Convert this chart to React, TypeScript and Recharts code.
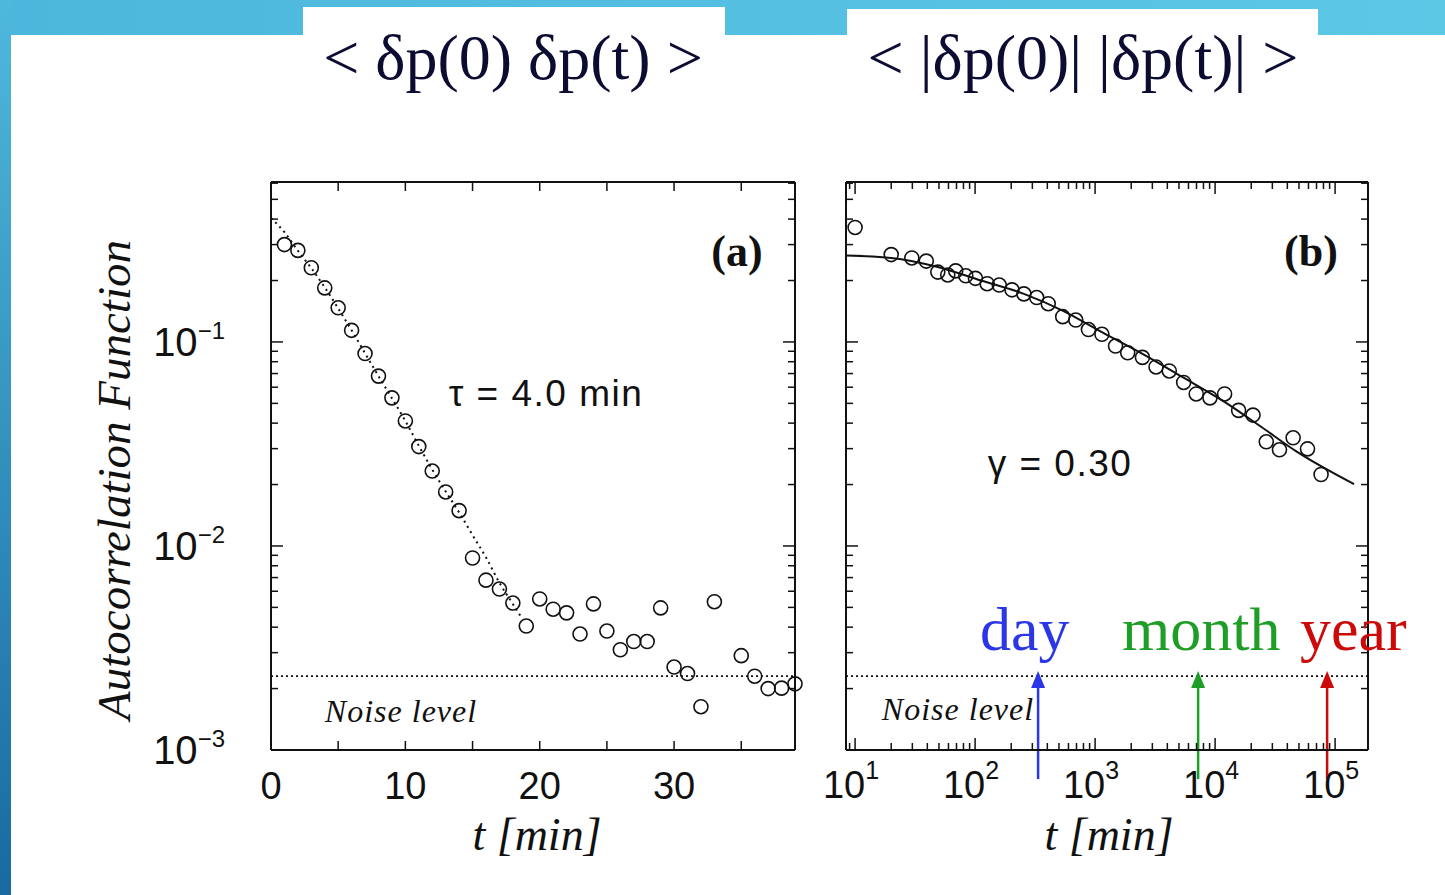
import React from "react";
import { ComposedChart, Scatter, Line, XAxis, YAxis, ReferenceLine } from "recharts";

// panel (a): linear time axis, minutes
const minutesA = [1, 2, 3, 4, 5, 6, 7, 8, 9, 10, 11, 12, 13, 14, 15, 16, 17, 18, 19, 20, 21, 22, 23, 24, 25, 26, 27, 28, 29, 30, 31, 32, 33, 35, 36, 37, 38, 39];
const acfA = [0.30, 0.281, 0.231, 0.184, 0.147, 0.114, 0.0877, 0.068, 0.0532, 0.041, 0.0307, 0.0233, 0.0184, 0.0149, 0.00873, 0.0068, 0.00615, 0.00525, 0.00405, 0.0055, 0.0049, 0.0047, 0.0037, 0.0052, 0.00383, 0.0031, 0.0034, 0.0034, 0.00497, 0.00255, 0.00237, 0.00163, 0.00533, 0.0029, 0.0023, 0.002, 0.00201, 0.00211];
const fitMinutesA = [0, 1, 2, 3, 4, 5, 6, 7, 8, 9, 10, 11, 12, 13, 14, 15, 16, 17, 18, 18.6];
const fitA = [0.405, 0.345, 0.28, 0.23, 0.185, 0.146, 0.114, 0.088, 0.068, 0.053, 0.041, 0.031, 0.0237, 0.0185, 0.0146, 0.0113, 0.0088, 0.0066, 0.0052, 0.0045];
const tickMinutesA = [0, 5, 10, 15, 20, 25, 30, 35];
const labelMinutesA = [0, 10, 20, 30];

// panel (b): log time axis, minutes
const minutesB = [10, 20, 29.7, 39.2, 48.9, 59.2, 68.9, 83.6, 100.7, 126, 159, 203, 255, 326, 407, 537, 690, 880, 1140, 1480, 1870, 2480, 3220, 4150, 5470, 6960, 9060, 12000, 15700, 20700, 26700, 34400, 44700, 58900, 76400];
const acfB = [0.364, 0.268, 0.258, 0.249, 0.22, 0.213, 0.223, 0.211, 0.205, 0.193, 0.19, 0.18, 0.172, 0.165, 0.154, 0.133, 0.128, 0.115, 0.109, 0.0955, 0.0885, 0.084, 0.0754, 0.0721, 0.0633, 0.0556, 0.0532, 0.0556, 0.0462, 0.0438, 0.0324, 0.0296, 0.0339, 0.0299, 0.0224];
const fitMinutesB = [8.4, 20, 48.9, 112, 255, 541, 1160, 2460, 5280, 11200, 24000, 47900, 144000];
const fitB = [0.265, 0.258, 0.233, 0.2, 0.172, 0.142, 0.111, 0.0877, 0.0676, 0.0521, 0.0385, 0.029, 0.0201];

const noiseLevel = 0.0023;
const eventNames = ["day", "month", "year"];
const eventMinutes = [335, 7220, 85800];
const eventColors = ["#2b36e6", "#1e9e26", "#cc0a0a"];
const eventLabelX = [980, 1122, 1300];

const yMin = 0.001;
const yMax = 0.608;
const xMinB = 8.41;
const xMaxB = 188000;
const mult = [1, 2, 3, 4, 5, 6, 7, 8, 9];

const yTicks = [0.001, 0.01, 0.1]
  .flatMap((d) => mult.map((m) => +(d * m).toPrecision(3)))
  .filter((v) => v <= yMax);
const xTicksB = [1, 10, 100, 1000, 10000, 100000]
  .flatMap((d) => mult.map((m) => d * m))
  .filter((v) => v >= xMinB && v <= xMaxB);

const pointsA = minutesA.map((t, i) => ({ t, v: acfA[i] }));
const fitLineA = fitMinutesA.map((t, i) => ({ t, v: fitA[i] }));
const pointsB = minutesB.map((t, i) => ({ t, v: acfB[i] }));
const fitLineB = fitMinutesB.map((t, i) => ({ t, v: fitB[i] }));

const ink = "#111";
const sans = "'Liberation Sans', Arial, sans-serif";
const serif = "'Liberation Serif', 'Times New Roman', serif";

// plot boxes (px)
const plotH = 568;
const plotWA = 524;
const plotWB = 522;

const isDecade = (v: number) => {
  const l = Math.log10(v);
  return Math.abs(l - Math.round(l)) < 1e-6;
};

function OpenCircle(props: any) {
  const { cx, cy } = props;
  return <circle cx={cx} cy={cy} r={7} fill="none" stroke={ink} strokeWidth={1.6} />;
}

// bottom axis ticks also draw the mirrored tick on the top edge
function BottomTickA(props: any) {
  const { x, y, payload } = props;
  const v = payload.value;
  const top = y - plotH;
  return (
    <g>
      <line x1={x} y1={y} x2={x} y2={y - 9} stroke={ink} strokeWidth={1.5} />
      <line x1={x} y1={top} x2={x} y2={top + 9} stroke={ink} strokeWidth={1.5} />
      {labelMinutesA.includes(v) && (
        <text x={x} y={y + 49} textAnchor="middle" fontFamily={sans} fontSize={38} fill={ink}>
          {v}
        </text>
      )}
    </g>
  );
}

function BottomTickB(props: any) {
  const { x, y, payload } = props;
  const major = isDecade(payload.value);
  const len = major ? 12 : 7;
  const top = y - plotH;
  return (
    <g>
      <line x1={x} y1={y} x2={x} y2={y - len} stroke={ink} strokeWidth={1.5} />
      <line x1={x} y1={top} x2={x} y2={top + len} stroke={ink} strokeWidth={1.5} />
      {major && (
        <text x={x - 4} y={y + 48} textAnchor="middle" fontFamily={sans} fontSize={38} fill={ink}>
          10
          <tspan dy={-19} fontSize={25}>
            {Math.round(Math.log10(payload.value))}
          </tspan>
        </text>
      )}
    </g>
  );
}

// left axis ticks also draw the mirrored tick on the right edge
function LeftTick(withLabels: boolean, plotW: number) {
  return (props: any) => {
    const { x, y, payload } = props;
    const major = isDecade(payload.value);
    const len = major ? 12 : 7;
    const right = x + plotW;
    return (
      <g>
        <line x1={x} y1={y} x2={x + len} y2={y} stroke={ink} strokeWidth={1.5} />
        <line x1={right} y1={y} x2={right - len} y2={y} stroke={ink} strokeWidth={1.5} />
        {withLabels && major && (
          <text x={x - 46} y={y + 14} textAnchor="end" fontFamily={sans} fontSize={40} fill={ink}>
            10
            <tspan dy={-17} fontSize={24}>
              {"\u2212" + Math.abs(Math.round(Math.log10(payload.value)))}
            </tspan>
          </text>
        )}
      </g>
    );
  };
}

function EventArrow(color: string) {
  return (props: any) => {
    const { x1, y1, x2, y2 } = props;
    return (
      <g>
        <line x1={x1} y1={y1} x2={x2} y2={y2 + 14} stroke={color} strokeWidth={2.5} />
        <polygon points={`${x2},${y2} ${x2 - 7},${y2 + 17} ${x2 + 7},${y2 + 17}`} fill={color} />
      </g>
    );
  };
}

const frame = { stroke: ink, strokeWidth: 2 };
const tickLeftA = LeftTick(true, plotWA);
const tickLeftB = LeftTick(false, plotWB);

// axes are 1px thick (a zero-sized axis is not drawn), the margins take that into account
function PanelA() {
  return (
    <ComposedChart width={830} height={745} margin={{ top: 31, right: 34, bottom: 144, left: 270 }}>
      <XAxis xAxisId="b" dataKey="t" type="number" domain={[0, 39]} ticks={tickMinutesA} interval={0}
        height={1} tickSize={0} tickMargin={0} tickLine={false} axisLine={frame} tick={BottomTickA} />
      <XAxis xAxisId="t" orientation="top" type="number" domain={[0, 39]}
        height={1} tickLine={false} axisLine={frame} tick={false} />
      <YAxis yAxisId="l" dataKey="v" type="number" scale="log" domain={[yMin, yMax]} ticks={yTicks} interval={0}
        width={1} tickSize={0} tickMargin={0} tickLine={false} axisLine={frame} tick={tickLeftA} />
      <YAxis yAxisId="r" orientation="right" type="number" scale="log" domain={[yMin, yMax]}
        width={1} tickLine={false} axisLine={frame} tick={false} />
      <ReferenceLine xAxisId="b" yAxisId="l" y={noiseLevel} stroke={ink} strokeWidth={1.8} strokeDasharray="2 3" />
      <Line xAxisId="b" yAxisId="l" data={fitLineA} dataKey="v" type="monotone" stroke={ink} strokeWidth={2}
        strokeDasharray="2 4" dot={false} isAnimationActive={false} />
      <Scatter xAxisId="b" yAxisId="l" data={pointsA} dataKey="v" shape={OpenCircle} isAnimationActive={false} />
    </ComposedChart>
  );
}

function PanelB() {
  return (
    <ComposedChart width={625} height={745} margin={{ top: 31, right: 76, bottom: 144, left: 25 }}>
      <XAxis xAxisId="b" dataKey="t" type="number" scale="log" domain={[xMinB, xMaxB]} ticks={xTicksB} interval={0}
        height={1} tickSize={0} tickMargin={0} tickLine={false} axisLine={frame} tick={BottomTickB} />
      <XAxis xAxisId="t" orientation="top" type="number" scale="log" domain={[xMinB, xMaxB]}
        height={1} tickLine={false} axisLine={frame} tick={false} />
      <YAxis yAxisId="l" dataKey="v" type="number" scale="log" domain={[yMin, yMax]} ticks={yTicks} interval={0}
        width={1} tickSize={0} tickMargin={0} tickLine={false} axisLine={frame} tick={tickLeftB} />
      <YAxis yAxisId="r" orientation="right" type="number" scale="log" domain={[yMin, yMax]}
        width={1} tickLine={false} axisLine={frame} tick={false} />
      <ReferenceLine xAxisId="b" yAxisId="l" y={noiseLevel} stroke={ink} strokeWidth={1.8} strokeDasharray="2 3" />
      <Line xAxisId="b" yAxisId="l" data={fitLineB} dataKey="v" type="monotone" stroke={ink} strokeWidth={2}
        dot={false} isAnimationActive={false} />
      <Scatter xAxisId="b" yAxisId="l" data={pointsB} dataKey="v" shape={OpenCircle} isAnimationActive={false} />
      {eventMinutes.map((t, i) => (
        <ReferenceLine key={eventNames[i]} xAxisId="b" yAxisId="l" ifOverflow="visible"
          segment={[{ x: t, y: 0.00072 }, { x: t, y: 0.00244 }]}
          stroke={eventColors[i]} shape={EventArrow(eventColors[i])} />
      ))}
    </ComposedChart>
  );
}

export default function App() {
  return (
    <div style={{ position: "absolute", left: 0, top: 0, width: 1445, height: 895, background: "#fff", overflow: "hidden" }}>
      <div style={{ position: "absolute", left: 0, top: 0, width: 1445, height: 35, background: "linear-gradient(90deg, #4db6dc, #5cc8e6)" }} />
      <div style={{ position: "absolute", left: 0, top: 0, width: 11, height: 895, background: "linear-gradient(180deg, #4fb8dd, #186aa0)" }} />
      <div style={{ position: "absolute", left: 303, top: 7, width: 422, height: 30, background: "#fff" }} />
      <div style={{ position: "absolute", left: 847, top: 9, width: 471, height: 28, background: "#fff" }} />

      <div style={{ position: "absolute", left: 0, top: 150 }}>
        <PanelA />
      </div>
      <div style={{ position: "absolute", left: 820, top: 150 }}>
        <PanelB />
      </div>

      <svg width={1445} height={895} style={{ position: "absolute", left: 0, top: 0, pointerEvents: "none" }}>
        <text x={513} y={79} textAnchor="middle" fontFamily={serif} fontSize={64} fill="#0c0c32">
          {"< \u03B4p(0) \u03B4p(t) >"}
        </text>
        <text x={1083} y={79} textAnchor="middle" fontFamily={serif} fontSize={64} fill="#0c0c32">
          {"< |\u03B4p(0)| |\u03B4p(t)| >"}
        </text>

        <text transform="translate(130,480) rotate(-90)" textAnchor="middle" fontFamily={serif} fontStyle="italic" fontSize={47} fill={ink}>
          Autocorrelation Function
        </text>
        <text x={537} y={850} textAnchor="middle" fontFamily={serif} fontStyle="italic" fontSize={46} fill={ink}>
          t [min]
        </text>
        <text x={1109} y={850} textAnchor="middle" fontFamily={serif} fontStyle="italic" fontSize={46} fill={ink}>
          t [min]
        </text>

        <text x={737} y={266} textAnchor="middle" fontFamily={serif} fontWeight="bold" fontSize={44} fill={ink}>(a)</text>
        <text x={1311} y={266} textAnchor="middle" fontFamily={serif} fontWeight="bold" fontSize={44} fill={ink}>(b)</text>

        <text x={546} y={406} textAnchor="middle" fontFamily={sans} fontSize={37} letterSpacing={1.5} fill={ink}>
          {"\u03C4 = 4.0 min"}
        </text>
        <text x={1060} y={476} textAnchor="middle" fontFamily={sans} fontSize={37} letterSpacing={1.5} fill={ink}>
          {"\u03B3 = 0.30"}
        </text>

        <text x={401} y={722} textAnchor="middle" fontFamily={serif} fontStyle="italic" fontSize={32} letterSpacing={1} fill={ink}>
          Noise level
        </text>
        <text x={958} y={720} textAnchor="middle" fontFamily={serif} fontStyle="italic" fontSize={32} letterSpacing={1} fill={ink}>
          Noise level
        </text>

        {eventNames.map((name, i) => (
          <text key={name} x={eventLabelX[i]} y={650} fontFamily={serif} fontSize={62} fill={eventColors[i]}>
            {name}
          </text>
        ))}
      </svg>
    </div>
  );
}
